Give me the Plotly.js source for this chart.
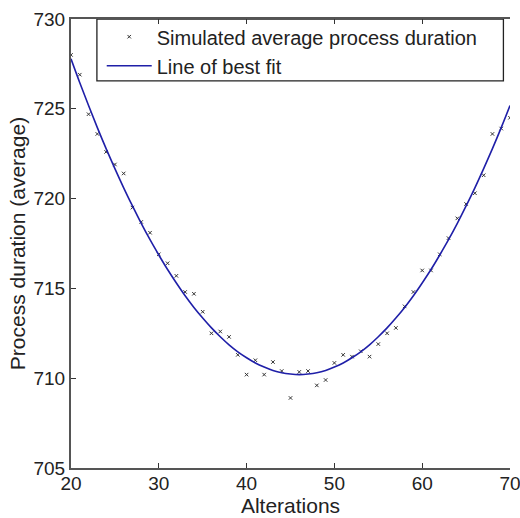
<!DOCTYPE html>
<html>
<head>
<meta charset="utf-8">
<script src="https://cdn.plot.ly/plotly-3.0.1.min.js"></script>
<style>html,body{margin:0;padding:0;background:#fff;}#chart{width:520px;height:518px;}</style>
</head>
<body>
<div id="chart"></div>
<script>
const alterations = [20,21,22,23,24,25,26,27,28,29,30,31,32,33,34,35,36,37,38,39,40,41,42,43,44,45,46,47,48,49,50,51,52,53,54,55,56,57,58,59,60,61,62,63,64,65,66,67,68,69,70];
const simulatedDuration = [728.0,726.9,724.7,723.6,722.6,721.9,721.4,719.5,718.7,718.1,716.9,716.4,715.7,714.8,714.7,713.7,712.5,712.6,712.3,711.3,710.2,711.0,710.2,710.9,710.4,708.9,710.35,710.4,709.6,709.9,710.85,711.3,711.2,711.5,711.2,711.9,712.5,712.8,714.0,714.8,716.0,716.0,716.9,717.8,718.9,719.7,720.3,721.3,723.6,723.9,724.5];
const fitDuration = [727.78,726.45,725.18,723.95,722.78,721.67,720.6,719.59,718.62,717.71,716.86,716.05,715.30,714.59,713.94,713.35,712.8,712.31,711.86,711.47,711.14,710.85,710.62,710.43,710.30,710.23,710.2,710.23,710.30,710.43,710.62,710.85,711.14,711.47,711.86,712.31,712.8,713.35,713.94,714.59,715.30,716.05,716.86,717.71,718.62,719.59,720.6,721.67,722.78,723.95,725.18];
const xTicks = [20,30,40,50,60,70];
const yTicks = [705,710,715,720,725,730];
const seriesNames = ['Simulated average process duration','Line of best fit'];

const font = 'Liberation Sans, Arial, sans-serif';
const traces = [
  {x: alterations, y: simulatedDuration, type: 'scatter', mode: 'markers', name: seriesNames[0],
   marker: {symbol: 'x-thin-open', size: 3.5, color: '#333', line: {width: 1, color: '#333'}}},
  {x: alterations, y: fitDuration, type: 'scatter', mode: 'lines', name: seriesNames[1],
   line: {color: '#1f1fa8', width: 1.6, shape: 'spline'}}
];
const axisCommon = {
  showgrid: false, zeroline: false, showline: true, linecolor: '#555', linewidth: 2,
  ticks: 'inside', ticklen: 5, tickcolor: '#333', tickwidth: 1.2,
  tickfont: {family: font, size: 19, color: '#222'}, ticklabeloverflow: 'allow'
};
const layout = {
  width: 520, height: 518,
  margin: {l: 71, r: 10, t: 19, b: 50},
  paper_bgcolor: '#fff', plot_bgcolor: '#fff',
  showlegend: true,
  xaxis: Object.assign({}, axisCommon, {range: [20, 70], tickvals: xTicks, mirror: 'ticks', ticklabelstandoff: -3,
    title: {text: 'Alterations', font: {family: font, size: 21, color: '#222'}, standoff: 0}}),
  yaxis: Object.assign({}, axisCommon, {range: [705, 730], tickvals: yTicks,
    title: {text: 'Process duration (average)', font: {family: font, size: 21, color: '#222'}, standoff: 2}}),
  legend: {x: 0.07, y: 1.004, xanchor: 'left', yanchor: 'top', bgcolor: 'rgba(0,0,0,0)', borderwidth: 0,
    font: {family: font, size: 20, color: '#222'}, itemwidth: 45, tracegroupgap: 0},
  shapes: [{type: 'rect', xref: 'paper', yref: 'paper', x0: 0.059, x1: 0.985, y0: 0.862, y1: 1,
    line: {color: '#222', width: 1.3}, fillcolor: 'rgba(255,255,255,1)', layer: 'below'}]
};
Plotly.newPlot('chart', traces, layout, {displayModeBar: false, staticPlot: true});
</script>
</body>
</html>
